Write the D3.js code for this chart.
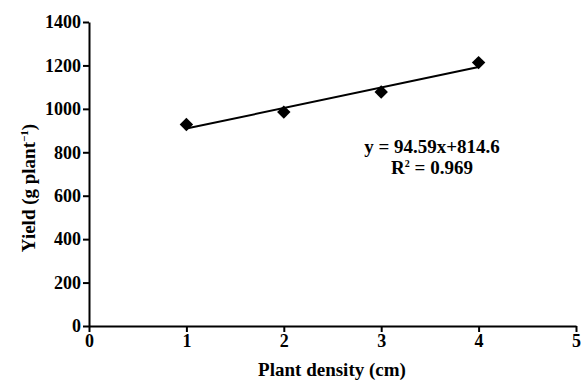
<!DOCTYPE html>
<html>
<head>
<meta charset="utf-8">
<script src="https://cdn.jsdelivr.net/npm/d3@7"></script>
<style>
  body { margin: 0; background: #fff; }
  svg { display: block; }
  .axis path, .axis line { stroke: #000; stroke-width: 2; }
</style>
</head>
<body>
<script>
const densities = [1, 2, 3, 4];
const yields = [928, 985, 1078, 1213];
const xTicks = [0, 1, 2, 3, 4, 5];
const yTicks = [0, 200, 400, 600, 800, 1000, 1200, 1400];
const slope = 94.59, intercept = 814.6;

const width = 584, height = 381;
const margin = {left: 89, right: 8, top: 22, bottom: 55};
const serif = '"Liberation Serif", "DejaVu Serif", "Times New Roman", serif';

const svg = d3.select('body').append('svg')
  .attr('width', width)
  .attr('height', height)
  .style('font-family', serif)
  .style('font-weight', 'bold');

const x = d3.scaleLinear().domain([0, 5]).range([margin.left, width - margin.right]);
const y = d3.scaleLinear().domain([0, 1400]).range([height - margin.bottom, margin.top]);

function styleAxis(g) {
  g.attr('font-family', null).attr('font-size', null);
  g.selectAll('text')
    .style('font-family', serif)
    .style('font-weight', 'bold')
    .style('font-size', '18px')
    .attr('fill', '#000');
}

svg.append('g')
  .attr('class', 'axis')
  .attr('transform', 'translate(0,' + y(0) + ')')
  .call(d3.axisBottom(x).tickValues(xTicks).tickFormat(d3.format('d')).tickSize(6).tickSizeOuter(0).tickPadding(2))
  .call(styleAxis);

svg.append('g')
  .attr('class', 'axis')
  .attr('transform', 'translate(' + x(0) + ',0)')
  .call(d3.axisLeft(y).tickValues(yTicks).tickFormat(d3.format('d')).tickSize(6).tickSizeOuter(0).tickPadding(2))
  .call(styleAxis);

// trend line
svg.append('line')
  .attr('x1', x(1)).attr('y1', y(slope * 1 + intercept))
  .attr('x2', x(4)).attr('y2', y(slope * 4 + intercept))
  .attr('stroke', '#000').attr('stroke-width', 2);

svg.selectAll('.pt')
  .data(densities)
  .enter()
  .append('path')
  .attr('class', 'pt')
  .attr('d', d3.symbol(d3.symbolDiamond2, 115))
  .attr('transform', (d, i) => 'translate(' + x(d) + ',' + y(yields[i]) + ')')
  .attr('fill', '#000');

svg.append('text')
  .attr('x', 432).attr('y', 153)
  .attr('text-anchor', 'middle')
  .style('font-size', '19px')
  .text('y = 94.59x+814.6');

const r2 = svg.append('text')
  .attr('x', 432).attr('y', 174)
  .attr('text-anchor', 'middle')
  .style('font-size', '19px');
r2.append('tspan').text('R');
r2.append('tspan').attr('dy', -7).style('font-size', '10px').text('2');
r2.append('tspan').attr('dy', 7).text(' = 0.969');

svg.append('text')
  .attr('x', 332).attr('y', 376)
  .attr('text-anchor', 'middle')
  .style('font-size', '19px')
  .text('Plant density (cm)');

const yl = svg.append('text')
  .attr('transform', 'translate(35,188) rotate(-90)')
  .attr('text-anchor', 'middle')
  .style('font-size', '19px');
yl.append('tspan').text('Yield (g plant');
yl.append('tspan').attr('dy', -7).style('font-size', '11px').text('\u22121');
yl.append('tspan').attr('dy', 7).text(')');
</script>
</body>
</html>
